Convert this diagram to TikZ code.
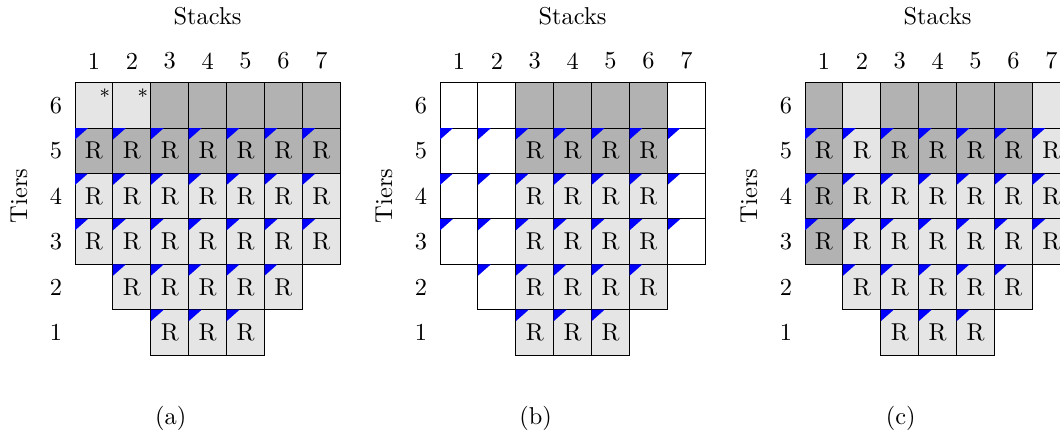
\documentclass[tikz,border=0pt]{standalone}
\usetikzlibrary{calc}
\begin{document}
\begin{tikzpicture}[x=0.41pt,y=-0.41pt,
  cellbox/.style={draw=black, line width=0.4pt, minimum width=15.539pt, minimum height=18.614pt,
    inner sep=0pt, outer sep=0pt, anchor=north west},
  lab/.style={inner sep=0pt, outer sep=0pt},
  starlab/.style={inner sep=0pt, outer sep=0pt, anchor=base, font=\footnotesize},
  light/.style={fill=black!10},
  dark/.style={fill=black!30},
  empty/.style={fill=white}]
\useasboundingbox (0,0) rectangle (1060,432);
\clip (0,0) rectangle (1060,432);
% cell: panel, panel x, column, tier, style, text
\newcommand\mycell[6]{%
  \node[cellbox,#5] (#1-#3-#4) at ({#2+(#3-1)*37.9},{82.7+(6-#4)*45.4}) {#6};}
\newcommand\mytri[3]{%
  \fill[blue] (#1-#2-#3.north west) -- ++(13,0) -- ++(-13,11.5) -- cycle;}
% labels for each panel
\foreach \p/\X/\cap in {a/75/(a),b/440/(b),c/805/(c)}{
  \node[lab] (\p-stacks) at (\X+132.6,16) {Stacks};
  \foreach \c in {1,...,7}{\node[lab] (\p-col\c) at ({\X+(\c-0.5)*37.9},61) {\c};}
  \foreach \t in {1,...,6}{\node[lab] (\p-row\t) at (\X-19,{105.4+(6-\t)*45.4}) {\t};}
  \node[lab,rotate=90] (\p-tiers) at (\X-56,196) {Tiers};
  \node[lab,anchor=base] (\p-cap) at (\X+95.7,424) {\cap};
}
% ---------- panel (a)
\mycell{a}{75}{1}{6}{light}{}
\mycell{a}{75}{2}{6}{light}{}
\foreach \c in {3,...,7}{\mycell{a}{75}{\c}{6}{dark}{}}
\node[starlab] (a-star1) at ($(a-1-6.north east)+(-8,20.5)$) {*};
\node[starlab] (a-star2) at ($(a-2-6.north east)+(-8,20.5)$) {*};
\foreach \c in {1,...,7}{\mycell{a}{75}{\c}{5}{dark}{R}\mytri{a}{\c}{5}}
\foreach \t in {4,3}{\foreach \c in {1,...,7}{\mycell{a}{75}{\c}{\t}{light}{R}\mytri{a}{\c}{\t}}}
\foreach \c in {2,...,6}{\mycell{a}{75}{\c}{2}{light}{R}\mytri{a}{\c}{2}}
\foreach \c in {3,...,5}{\mycell{a}{75}{\c}{1}{light}{R}\mytri{a}{\c}{1}}
% ---------- panel (b)
\foreach \c in {1,2,7}{\mycell{b}{440}{\c}{6}{empty}{}}
\foreach \c in {3,...,6}{\mycell{b}{440}{\c}{6}{dark}{}}
\foreach \t in {5,4,3}{\foreach \c in {1,2,7}{\mycell{b}{440}{\c}{\t}{empty}{}\mytri{b}{\c}{\t}}}
\foreach \c in {3,...,6}{\mycell{b}{440}{\c}{5}{dark}{R}\mytri{b}{\c}{5}}
\foreach \t in {4,3,2}{\foreach \c in {3,...,6}{\mycell{b}{440}{\c}{\t}{light}{R}\mytri{b}{\c}{\t}}}
\mycell{b}{440}{2}{2}{empty}{}\mytri{b}{2}{2}
\foreach \c in {3,...,5}{\mycell{b}{440}{\c}{1}{light}{R}\mytri{b}{\c}{1}}
% ---------- panel (c)
\foreach \c/\s in {1/dark,2/light,3/dark,4/dark,5/dark,6/dark,7/light}{\mycell{c}{805}{\c}{6}{\s}{}}
\foreach \c/\s in {1/dark,2/light,3/dark,4/dark,5/dark,6/dark,7/light}{\mycell{c}{805}{\c}{5}{\s}{R}\mytri{c}{\c}{5}}
\foreach \t in {4,3}{
  \mycell{c}{805}{1}{\t}{dark}{R}\mytri{c}{1}{\t}
  \foreach \c in {2,...,7}{\mycell{c}{805}{\c}{\t}{light}{R}\mytri{c}{\c}{\t}}}
\foreach \c in {2,...,6}{\mycell{c}{805}{\c}{2}{light}{R}\mytri{c}{\c}{2}}
\foreach \c in {3,...,5}{\mycell{c}{805}{\c}{1}{light}{R}\mytri{c}{\c}{1}}
\end{tikzpicture}
\end{document}
